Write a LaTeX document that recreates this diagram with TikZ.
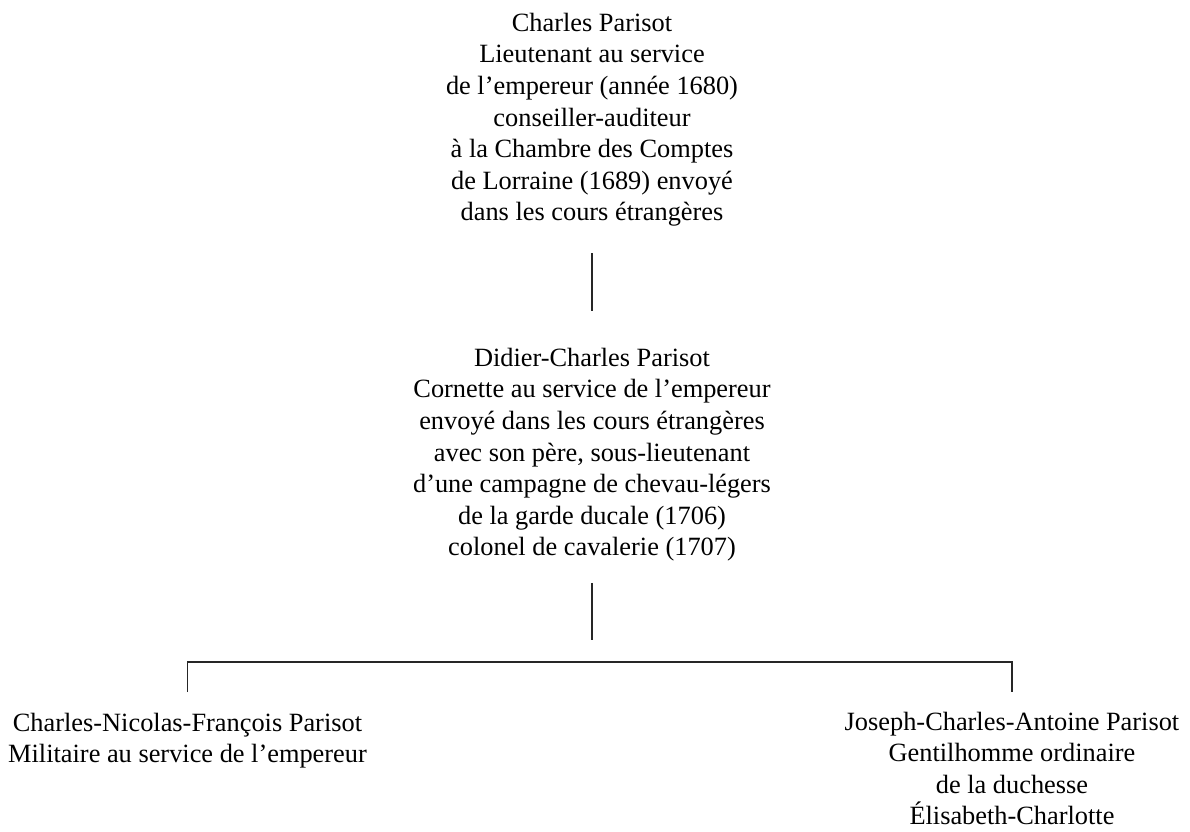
\documentclass[tikz,border=0pt]{standalone}
\usepackage{fontspec}
\setmainfont{Liberation Serif}
\usepackage{tikz}
\usetikzlibrary{calc,positioning}

\begin{document}
\begin{tikzpicture}[
  person/.style={align=center, inner sep=0pt, anchor=base, font={\fontsize{15}{18}\selectfont}},
  link/.style={draw=black!85, line width=1.1pt}]
  \useasboundingbox (0,0) rectangle (23.8,-16.64); % 1190 x 832
  % anchor=base : ligne de base de la derniere ligne
  \node[person] (charles) at (11.84,-4.42) {Charles Parisot\\Lieutenant au service\\de l’empereur (année 1680)\\conseiller-auditeur\\à la Chambre des Comptes\\de Lorraine (1689) envoyé\\dans les cours étrangères};
  \node[person] (didier) at (11.84,-11.12) {Didier-Charles Parisot\\Cornette au service de l’empereur\\envoyé dans les cours étrangères\\avec son père, sous-lieutenant\\d’une campagne de chevau-légers\\de la garde ducale (1706)\\colonel de cavalerie (1707)};
  \node[person] (nicolas) at (3.75,-15.26) {Charles-Nicolas-François Parisot\\Militaire au service de l’empereur};
  \node[person] (joseph) at (20.24,-16.5) {Joseph-Charles-Antoine Parisot\\Gentilhomme ordinaire\\de la duchesse\\Élisabeth-Charlotte};
  \draw[link] ([yshift=-0.52cm]charles.south) -- ([yshift=0.74cm]didier.north);
  \draw[link] ([yshift=-0.42cm]didier.south) -- ++(0,-1.14); % trait vers la fratrie
  \draw[link] ([yshift=0.41cm]nicolas.north) -- ++(0,0.6) -| ([yshift=0.38cm]joseph.north);
\end{tikzpicture}
\end{document}
